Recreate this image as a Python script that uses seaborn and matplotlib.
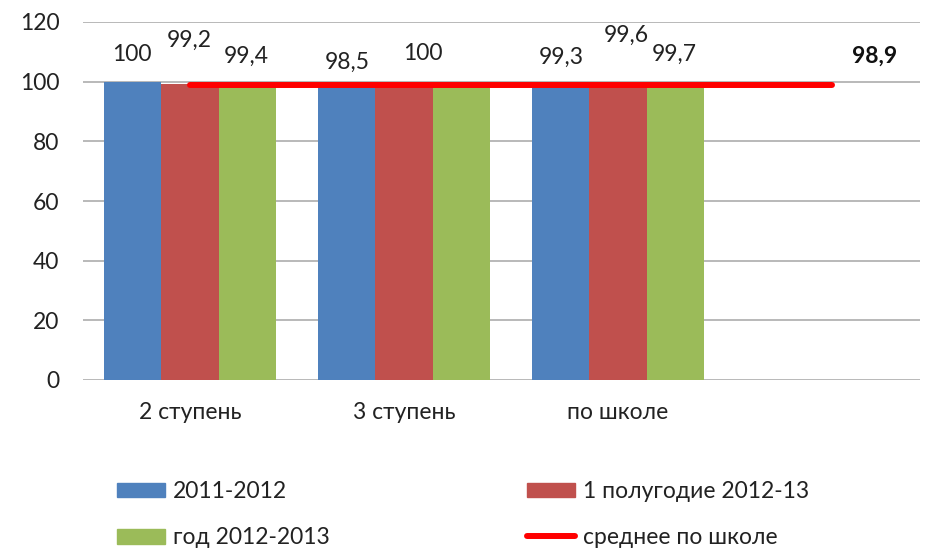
import numpy as np
import pandas as pd
import matplotlib
matplotlib.use("Agg")
import matplotlib.pyplot as plt
import seaborn as sns
from matplotlib.lines import Line2D
from matplotlib.patches import Patch

# ---- data ----
categories = ["2 ступень", "3 ступень", "по школе", ""]
series_names = ["2011-2012", "1 полугодие 2012-13", "год 2012-2013"]
vals_2011 = [100, 98.5, 99.3]
vals_half = [99.2, 100, 99.6]
vals_year = [99.4, 100, 99.7]
school_mean = 98.9
mean_label = "среднее по школе"
yticks = [0, 20, 40, 60, 80, 100, 120]

colors = ["#4F81BD", "#C0504D", "#9BBB59"]

rows = []
for name, vals in zip(series_names, [vals_2011, vals_half, vals_year]):
    for c, v in zip(categories[:3], vals):
        rows.append({"cat": c, "series": name, "value": v})
df = pd.DataFrame(rows)

sns.set_style("white")
plt.rcParams["font.family"] = ["Lato", "DejaVu Sans"]
FS = 16.5

fig = plt.figure(figsize=(9.32, 5.49), dpi=100)
ax = fig.add_axes([83 / 932, 1 - 380 / 549, 837 / 932, 358 / 549])

sns.barplot(data=df, x="cat", y="value", hue="series", order=categories,
            hue_order=series_names, palette=colors, saturation=1, width=0.8,
            errorbar=None, ax=ax, legend=False, zorder=2, linewidth=0)

# mean line across category slots
xs = np.arange(len(categories))
ax.plot(xs, [school_mean] * len(categories), color="#FF0000", lw=4.3,
        solid_capstyle="round", zorder=3)

ax.set_ylim(0, 120)
ax.set_xlim(-0.5, -0.5 + 837 / 214)
ax.set_yticks(yticks)
ax.yaxis.grid(True, color="#A6A6A6", lw=1.1, zorder=0)
ax.set_axisbelow(True)
for s in ax.spines.values():
    s.set_visible(False)
ax.tick_params(axis="y", length=0, pad=17, labelsize=FS, labelcolor="#222222")
ax.tick_params(axis="x", length=0, pad=16, labelsize=FS, labelcolor="#222222")
ax.set_xlabel("")
ax.set_ylabel("")

# value labels: per-bar offsets (pixels) from bar top-center
offsets = {
    0: [(-1, 27), (-1, 44), (-1, 27)],
    1: [(0, 24), (19, 28), None],
    2: [(0, 26), (8, 48), (-1, 28)],
}
all_vals = [vals_2011, vals_half, vals_year]
for si, cont in enumerate(ax.containers):
    for ci, bar in enumerate(cont):
        off = offsets[ci][si]
        if off is None:
            continue
        v = all_vals[si][ci]
        txt = f"{v:g}".replace(".", ",")
        ax.annotate(txt, (bar.get_x() + bar.get_width() / 2, bar.get_height()),
                    xytext=off, textcoords="offset pixels", ha="center", va="center",
                    fontsize=FS, color="#222222")

ax.annotate(f"{school_mean:g}".replace(".", ","), (xs[-1], school_mean),
            xytext=(43, 29), textcoords="offset pixels", ha="center", va="center",
            fontsize=FS, fontweight="bold", color="#111111")

handles = [Patch(color=colors[0]), Patch(color=colors[2]),
           Patch(color=colors[1]), Line2D([], [], color="#FF0000", lw=4.3)]
labels = [series_names[0], series_names[2], series_names[1], mean_label]
fig.legend(handles, labels, loc="upper left", bbox_to_anchor=(117 / 932, 1 - 481 / 549),
           ncol=2, frameon=False, fontsize=FS, handlelength=2.1, handleheight=0.62,
           handletextpad=0.35, columnspacing=8.6, labelspacing=1.1, borderpad=0,
           borderaxespad=0, labelcolor="#222222")

fig.savefig("out.png", dpi=100)
